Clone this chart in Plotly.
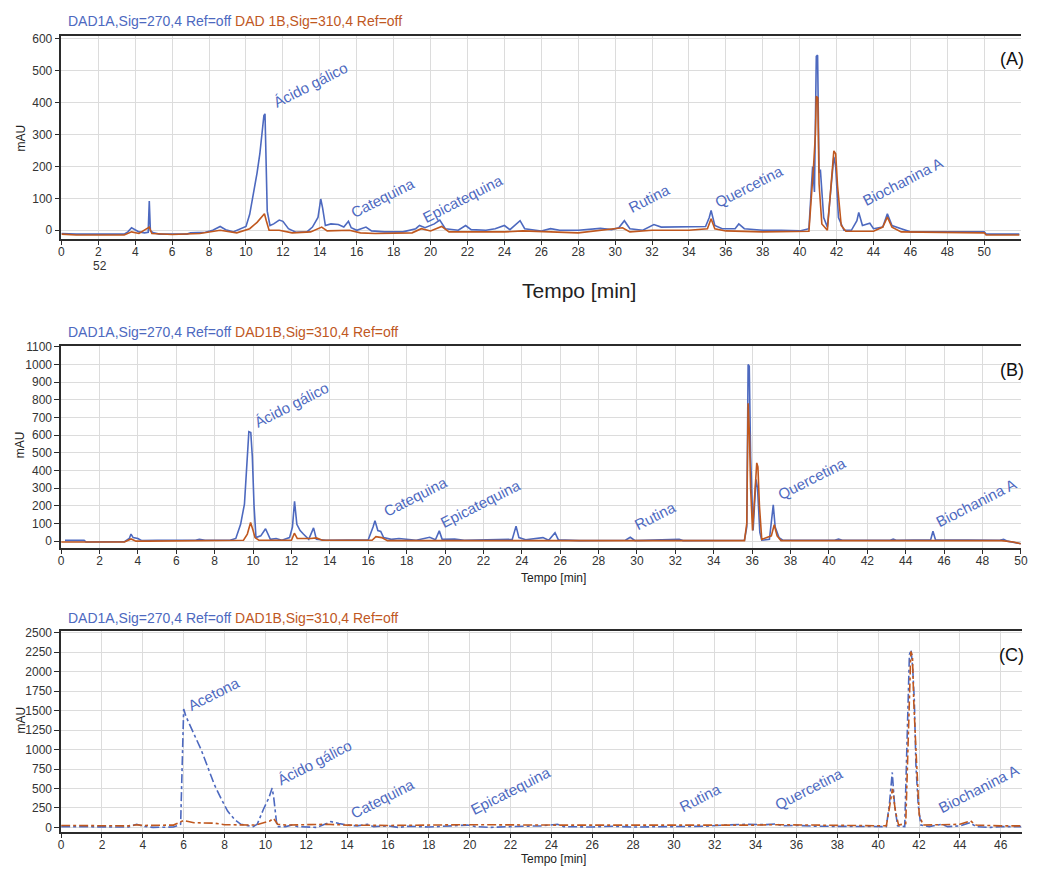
import plotly.graph_objects as go

W, H = 1046, 873
BLUE = "#4d69bf"
ORANGE = "#c0581f"
FONT = "Liberation Sans, Arial, sans-serif"

# ---------------- Chromatogram (A) ----------------
a_blue_t = [0, 0.8, 3.4, 3.6, 3.8, 4.0, 4.2, 4.5, 4.7, 4.76, 4.82, 5.0, 5.3, 6.8, 7.0, 7.8, 8.2, 8.6, 8.9, 9.3,
            9.7, 10.0, 10.2, 10.4, 10.6, 10.75, 10.88, 10.97, 11.03, 11.08, 11.15, 11.3, 11.5, 11.8, 12.0, 12.3,
            12.7, 13.3, 13.6, 13.9, 14.05, 14.15, 14.3, 14.6, 15.0, 15.3, 15.55, 15.7, 16.0, 16.5, 16.8, 17.5,
            18.5, 19.2, 19.4, 19.7, 20.2, 20.5, 20.8, 21.5, 21.9, 22.2, 23.0, 23.5, 24.0, 24.3, 24.85, 25.1,
            26.0, 26.5, 27.0, 28.0, 29.2, 29.8, 30.2, 30.5, 30.8, 31.5, 32.1, 32.5, 33.0, 34.0, 34.9, 35.1,
            35.2, 35.4, 35.8, 36.5, 36.7, 37.0, 38.0, 39.0, 40.0, 40.5, 40.7, 40.8, 40.9, 40.97, 41.05, 41.12,
            41.3, 41.5, 41.7, 41.85, 41.95, 42.1, 42.4, 42.8, 43.1, 43.2, 43.4, 43.8, 44.0, 44.5, 44.75, 45.0,
            45.5, 46.0, 50.0, 50.1, 51.9]
a_blue_v = [-10, -12, -12, -5, 8, 2, -5, -8, -6, 92, -2, -8, -12, -12, -8, -6, 0, 12, 2, -5,
            5, 12, 50, 110, 180, 240, 300, 360, 365, 250, 60, 15, 20, 32, 28, 5,
            -6, -5, 10, 40, 98, 70, 15, 20, 18, 10, 28, 8, 0, 10, -2, -5,
            -5, 5, 15, 8, 20, 32, 5, 0, 15, 2, 0, 5, 15, 2, 30, 5,
            -2, 5, 0, 0, 6, 2, 8, 30, 5, 0, 18, 10, 10, 12, 12, 40,
            62, 15, 5, 5, 20, 5, 0, 0, -2, 5, 200, 120, 545, 549, 180, 190,
            40, 10, 150, 230, 200, 40, 0, 0, 30, 56, 15, 22, 5, 10, 52, 15,
            5, -5, -5, -12, -12]

a_orange_t = [0, 0.8, 3.4, 3.8, 4.2, 4.76, 4.9, 6.0, 7.5, 8.6, 9.5, 10.2, 10.6, 10.9, 11.0, 11.1, 11.25, 11.8,
              12.5, 13.5, 14.1, 14.4, 15.6, 16.2, 17.0, 19.0, 19.5, 20.0, 20.6, 21.0, 24.0, 25.0, 28.0, 30.4,
              30.8, 32.0, 34.0, 35.0, 35.2, 35.4, 36.0, 38.0, 40.5, 40.75, 40.85, 40.9, 40.98, 41.05, 41.2,
              41.5, 41.7, 41.85, 41.95, 42.05, 42.25, 42.5, 44.0, 44.5, 44.75, 45.0, 45.5, 50.0, 50.1, 51.9]
a_orange_v = [-12, -15, -15, -5, -10, 10, -10, -13, -10, 0, -8, 5, 25, 45, 52, 30, 0, 0,
              -8, -5, 10, -2, 0, -8, -10, -8, 5, -2, 12, -5, -5, -2, -8, 8,
              -5, 0, 0, 5, 36, 5, -2, -5, -3, 200, 300, 420, 415, 145, 20,
              0, 150, 249, 240, 140, 15, -3, -3, 10, 41, 10, -5, -8, -15, -15]

# ---------------- Chromatogram (B) ----------------
b_blue_t = [0.2, 1.2, 1.3, 3.3, 3.55, 3.64, 3.75, 4.0, 4.2, 5.0, 7.0, 7.2, 7.5, 8.8, 9.1, 9.35, 9.55, 9.7, 9.78,
            9.88, 9.96, 10.05, 10.15, 10.4, 10.65, 10.9, 11.2, 11.5, 11.9, 12.05, 12.16, 12.28, 12.45, 12.62,
            12.9, 13.15, 13.3, 13.8, 16.0, 16.25, 16.35, 16.5, 16.65, 16.8, 17.2, 17.6, 18.5, 19.2, 19.5, 19.7,
            19.85, 20.5, 21.0, 23.5, 23.7, 23.85, 24.2, 25.1, 25.4, 25.73, 25.9, 27.0, 29.4, 29.65, 29.9, 32.2,
            32.4, 35.6, 35.72, 35.79, 35.85, 35.92, 36.0, 36.05, 36.2, 36.28, 36.4, 36.5, 36.9, 37.0, 37.1,
            37.2, 37.4, 37.6, 40.3, 40.5, 40.7, 43.2, 43.35, 43.5, 45.3, 45.42, 45.55, 48.9, 49.1, 49.3, 49.6,
            50.0]
b_blue_v = [4, 4, -5, -3, 15, 40, 20, 15, 3, 5, 5, 10, 5, 5, 15, 95, 210, 490, 620,
            615, 480, 200, 20, 30, 70, 10, 15, 5, 20, 80, 225, 95, 60, 40,
            10, 75, 10, 5, 8, 80, 115, 60, 55, 20, 10, 15, 5, 22, 8, 58,
            10, 12, 5, 10, 85, 20, 8, 20, 5, 48, 8, 3, 5, 22, 3, 10,
            3, 5, 80, 1000, 990, 480, 250, 60, 350, 300, 50, 5, 10, 110, 205,
            80, 20, 5, 5, 12, 5, 5, 12, 5, 8, 56, 8, 5, 10, 0, -5,
            -15]

b_orange_t = [0, 3.3, 3.64, 3.9, 4.5, 9.5, 9.7, 9.87, 10.0, 10.1, 10.3, 12.0, 12.15, 12.3, 13.0, 13.3, 13.6,
              16.2, 16.4, 16.7, 17.0, 35.6, 35.72, 35.79, 35.86, 35.92, 36.02, 36.15, 36.24, 36.3, 36.38, 36.5,
              37.0, 37.15, 37.3, 37.5, 49.0, 49.6, 50.0]
b_orange_v = [-5, -5, 12, 0, 0, 5, 40, 105, 60, 20, 5, 5, 45, 15, 15, 18, 5,
              5, 25, 20, 3, 3, 100, 780, 600, 300, 60, 300, 443, 420, 200, 10,
              30, 93, 30, 3, 3, -5, -15]

# ---------------- Chromatogram (C) ----------------
c_blue_t = [0, 3.3, 3.7, 4.0, 4.5, 5.5, 5.85, 5.93, 6.0, 6.12, 6.5, 6.85, 7.2, 7.5, 7.85, 8.15, 8.5, 8.8, 9.4,
            9.6, 9.9, 10.17, 10.33, 10.41, 10.5, 10.57, 11.0, 11.3, 11.6, 12.5, 13.0, 13.2, 13.6, 14.0, 14.5,
            15.0, 15.3, 16.0, 16.5, 17.0, 18.0, 19.0, 19.9, 20.3, 21.0, 22.0, 23.5, 24.3, 24.6, 26.0, 27.0,
            28.0, 29.5, 31.5, 32.5, 33.5, 34.5, 35.0, 35.3, 36.0, 37.0, 38.5, 40.4, 40.55, 40.69, 40.8, 40.95,
            41.3, 41.45, 41.53, 41.61, 41.69, 41.77, 41.85, 41.96, 42.09, 42.5, 43.1, 43.4, 44.0, 44.5, 44.8,
            45.5, 46.0, 47.0]
c_blue_v = [10, 5, 40, 15, 0, 5, 40, 1000, 1520, 1420, 1200, 1000, 760, 550, 360, 210, 100, 40, 10,
            40, 230, 380, 505, 380, 170, 10, 10, 30, 10, 0, 50, 75, 50, 30, 20,
            40, 10, 20, 0, 15, 5, 20, 30, 10, 0, 10, 20, 40, 10, 5, 15,
            5, 10, 15, 30, 40, 35, 45, 20, 25, 15, 10, 10, 300, 706, 300, 20,
            10, 1630, 2220, 2280, 2050, 1630, 790, 290, 30, 10, 40, 10, 20, 60, 10,
            0, 10, 10]

c_orange_t = [0, 3.3, 3.7, 4.0, 5.5, 6.0, 6.5, 7.5, 8.0, 9.5, 10.2, 10.4, 10.6, 11.0, 13.0, 14.0, 16.0, 19.0,
              20.0, 24.0, 30.0, 34.0, 35.0, 40.4, 40.55, 40.7, 40.85, 41.0, 41.35, 41.5, 41.6, 41.68, 41.74,
              41.85, 41.93, 42.01, 42.2, 44.0, 44.52, 44.8, 46.0, 47.0]
c_orange_v = [25, 20, 35, 25, 30, 90, 60, 55, 35, 30, 80, 115, 40, 30, 40, 30, 25, 30,
              35, 30, 25, 30, 35, 20, 250, 496, 200, 30, 50, 1600, 2260, 2200, 1630,
              1000, 540, 160, 30, 40, 84, 30, 20, 20]

# Compound labels per chromatogram: (name, time, mAU)
a_labels = [("Ácido gálico", 11.2, 367), ("Catequina", 15.4, 22), ("Epicatequina", 19.3, 6),
            ("Rutina", 30.4, 37), ("Quercetina", 35.1, 52), ("Biochanina A", 43.1, 58)]
b_labels = [("Ácido gálico", 9.8, 611), ("Catequina", 16.5, 106), ("Epicatequina", 19.5, 41),
            ("Rutina", 29.6, 32), ("Quercetina", 37.05, 200), ("Biochanina A", 45.3, 50)]
c_labels = [("Acetona", 5.96, 1419), ("Ácido gálico", 10.3, 466), ("Catequina", 13.9, 42),
            ("Epicatequina", 19.8, 85), ("Rutina", 30.0, 127), ("Quercetina", 34.7, 148),
            ("Biochanina A", 42.7, 106)]

x_ticks_a = list(range(0, 52, 2))
x_ticks_b = list(range(0, 51, 2))
x_ticks_c = list(range(0, 47, 2))
y_ticks_a = list(range(0, 601, 100))
y_ticks_b = list(range(0, 1101, 100))
y_ticks_c = list(range(0, 2501, 250))


def px(x):
    return x / W


def py(y):
    return 1 - y / H


panels = [
    dict(s="", bt=a_blue_t, bv=a_blue_v, ot=a_orange_t, ov=a_orange_v, xr=[0, 52], yr=[-26, 610],
         xt=x_ticks_a, yt=y_ticks_a, xd=(59, 1028), yd=(30, 235), lab=a_labels, dash="solid", tag="(A)",
         head_y=15, mau_y=133, name_b="DAD 1B,Sig=310,4 Ref=off"),
    dict(s="2", bt=b_blue_t, bv=b_blue_v, ot=b_orange_t, ov=b_orange_v, xr=[0, 50], yr=[-37, 1105],
         xt=x_ticks_b, yt=y_ticks_b, xd=(58.7, 1027.7), yd=(343.5, 547.3), lab=b_labels, dash="solid",
         tag="(B)", head_y=329, mau_y=443, name_b="DAD1B,Sig=310,4 Ref=off"),
    dict(s="3", bt=c_blue_t, bv=c_blue_v, ot=c_orange_t, ov=c_orange_v, xr=[0, 47.05], yr=[-55, 2520],
         xt=x_ticks_c, yt=y_ticks_c, xd=(58.7, 1029), yd=(631.7, 834.3), lab=c_labels, dash="dashdot",
         tag="(C)", head_y=618, mau_y=721, name_b="DAD1B,Sig=310,4 Ref=off"),
]

fig = go.Figure()
annotations = []
layout = {}

for p in panels:
    xa, ya = "x" + p["s"], "y" + p["s"]
    fig.add_trace(go.Scatter(x=p["bt"], y=p["bv"], mode="lines", xaxis=xa, yaxis=ya,
                             line=dict(color=BLUE, width=1.6, dash=p["dash"])))
    fig.add_trace(go.Scatter(x=p["ot"], y=p["ov"], mode="lines", xaxis=xa, yaxis=ya,
                             line=dict(color=ORANGE, width=1.6, dash=p["dash"])))
    layout["xaxis" + p["s"]] = dict(
        domain=[px(p["xd"][0]), px(p["xd"][1])], range=p["xr"], anchor=ya,
        tickvals=p["xt"], ticktext=[str(v) for v in p["xt"]],
        showgrid=True, gridcolor="#dcdcdc", gridwidth=1, zeroline=False,
        showline=True, linecolor="#2b2b2b", linewidth=2, mirror=True,
        ticks="outside", ticklen=4, tickcolor="#2b2b2b", ticklabelstandoff=-3,
        tickfont=dict(family=FONT, size=12, color="#333"))
    layout["yaxis" + p["s"]] = dict(
        domain=[py(p["yd"][1]), py(p["yd"][0])], range=p["yr"], anchor=xa,
        tickvals=p["yt"], showgrid=True, gridcolor="#dcdcdc", gridwidth=1, zeroline=False,
        showline=True, linecolor="#2b2b2b", linewidth=1.5,
        ticks="outside", ticklen=5, tickcolor="#2b2b2b",
        tickfont=dict(family=FONT, size=12, color="#333"))
    for name, t, v in p["lab"]:
        annotations.append(dict(x=t, y=v, xref=xa, yref=ya, text=name, showarrow=False,
                                xanchor="left", yanchor="bottom", textangle=-27,
                                font=dict(family=FONT, size=15, color=BLUE)))
    annotations.append(dict(x=px(1033), y=py(p["yd"][0] + 24), xref="paper", yref="paper",
                            text=p["tag"], showarrow=False, xanchor="right", yanchor="middle",
                            font=dict(family=FONT, size=18, color="#111")))
    annotations.append(dict(
        x=px(64), y=py(p["head_y"]), xref="paper", yref="paper", showarrow=False,
        xanchor="left", yanchor="middle",
        text=f"<span style='color:{BLUE}'>DAD1A,Sig=270,4 Ref=off</span> "
             f"<span style='color:{ORANGE}'>{p['name_b']}</span>",
        font=dict(family=FONT, size=14)))
    annotations.append(dict(x=px(18), y=py(p["mau_y"]), xref="paper", yref="paper", text="mAU",
                            showarrow=False, textangle=-90, xanchor="center", yanchor="middle",
                            font=dict(family=FONT, size=12, color="#222")))

# time-axis titles
annotations.append(dict(x=px(582), y=py(287), xref="paper", yref="paper", text="Tempo [min]",
                        showarrow=False, xanchor="center", yanchor="middle",
                        font=dict(family=FONT, size=21, color="#222")))
annotations.append(dict(x=px(98), y=py(263), xref="paper", yref="paper", text="52",
                        showarrow=False, xanchor="center", yanchor="middle",
                        font=dict(family=FONT, size=12, color="#333")))
for yy in (578, 862):
    annotations.append(dict(x=px(556), y=py(yy), xref="paper", yref="paper", text="Tempo [min]",
                            showarrow=False, xanchor="center", yanchor="middle",
                            font=dict(family=FONT, size=12, color="#222")))

fig.update_layout(
    width=W, height=H, margin=dict(l=0, r=0, t=0, b=0),
    paper_bgcolor="white", plot_bgcolor="white", showlegend=False,
    annotations=annotations, **layout)

fig.write_html("out.html")
